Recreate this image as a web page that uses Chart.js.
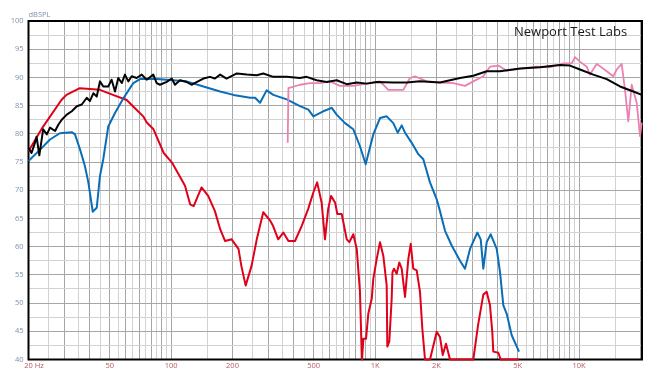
<!DOCTYPE html>
<html>
<head>
<meta charset="utf-8">
<script src="https://cdn.jsdelivr.net/npm/chart.js@4.4.1/dist/chart.umd.min.js"></script>
<style>
    html, body { margin: 0; padding: 0; background: #ffffff; }
    #wrap { width: 662px; height: 369px; }
</style>
</head>
<body>
<div id="wrap"><canvas id="responseChart" width="662" height="369"></canvas></div>
<script>
// Frequency (Hz) / level (dBSPL) pairs
const blackFreq = [20, 20.7, 21.5, 21.9, 22.6, 23.6, 24.6, 25.5, 27, 28, 29.1, 30.8, 32.6, 34.5, 36.5, 38.6, 40, 41.6, 43.2, 44.8, 46.5, 49.2, 51.1, 53.1, 55.1, 57.3, 59.4, 61.7, 64.1, 67.8, 71.8, 75.9, 81.8, 85, 88.2, 95.2, 100.7, 104.5, 110.6, 119, 126, 134, 144, 155, 164, 174, 187, 210, 235, 263, 283, 317, 369, 428, 462, 517, 579, 648, 726, 813, 910, 1018, 1228, 1429, 1660, 2080, 2608, 3030, 3524, 4096, 5134, 6434, 8060, 9024, 10100, 11740, 13660, 15870, 18440, 20300];
const blackSpl = [77.5, 76.6, 78.4, 79.5, 76.2, 80.8, 79.9, 81.1, 80.5, 81.6, 82.5, 83.4, 84, 84.9, 85.2, 86.4, 85.8, 87.2, 86.6, 89.3, 88.4, 88.4, 89.6, 87.5, 89.9, 89, 90.5, 89.3, 90.2, 89.9, 90.5, 89.6, 90.5, 89, 88.7, 89.2, 89.8, 88.7, 89.5, 89.2, 88.7, 89.2, 89.8, 90.1, 89.8, 90.5, 89.8, 90.7, 90.5, 90.4, 90.7, 90.1, 90.1, 89.9, 90.1, 89.5, 89.2, 89.5, 88.8, 89.1, 88.9, 89.2, 89.1, 89.1, 89.3, 89.1, 89.9, 90.3, 91.1, 91.1, 91.6, 91.8, 92.2, 92.1, 91.4, 90.5, 89.7, 88.4, 87.5, 86.9];

const redFreq = [20, 23.5, 29, 30.7, 35.7, 44.8, 51.9, 60.6, 65, 73, 76, 82, 92, 101, 109, 117, 124, 129, 141, 152, 164, 174, 184, 198, 214, 221, 232, 248, 263, 283, 306, 316, 335, 355, 376, 405, 437, 470, 498, 520, 547, 568, 589, 608, 637, 653, 686, 726, 748, 782, 813, 843, 853, 863, 876, 903, 926, 963, 980, 1018, 1057, 1097, 1140, 1148, 1174, 1206, 1217, 1238, 1276, 1314, 1350, 1402, 1455, 1495, 1539, 1599, 1660, 1704, 1757, 1858, 2005, 2080, 2146, 2226, 2330, 3030, 3194, 3392, 3524, 3658, 3754, 3796, 4018, 4128, 5076];
const redSpl = [76.9, 81.2, 86, 86.9, 88.1, 87.8, 86.9, 86, 84.9, 83.1, 82, 80.8, 76.6, 74.9, 72.8, 70.8, 67.5, 67.2, 70.5, 69, 66.3, 63.1, 61.0, 61.3, 59.6, 56.6, 53.1, 56.6, 61.3, 66.1, 64.6, 63.7, 61.3, 62.5, 61.0, 61.0, 63.7, 66.7, 69.6, 71.4, 67.8, 61.3, 66.7, 69.0, 67.8, 65.8, 65.8, 61.3, 60.8, 62.2, 59.6, 52.0, 45.5, 40, 43.7, 43.7, 48.1, 50.8, 54.3, 57.8, 60.8, 58.4, 53.1, 42.3, 43.2, 50.8, 55.5, 56.1, 55.2, 57.2, 56.1, 51.1, 57.8, 60.5, 56.1, 55.8, 52.0, 45.5, 40, 40, 44.9, 44.0, 40.8, 42.8, 40, 40, 46, 51.5, 52.0, 49.6, 44.9, 41.4, 41.2, 40, 40];

const blueFreq = [20, 22.8, 25.5, 28.5, 32.6, 33.8, 35.8, 37.8, 39.3, 41.3, 43.2, 44.8, 46.5, 49.2, 53.1, 57.9, 65.3, 70.4, 85, 119, 144, 174, 202, 244, 258, 273, 294, 317, 369, 428, 471, 498, 557, 613, 648, 712, 782, 843, 899, 980, 1057, 1140, 1228, 1291, 1350, 1402, 1512, 1629, 1723, 1858, 2005, 2080, 2202, 2374, 2608, 2758, 2920, 3170, 3294, 3392, 3524, 3688, 3946, 4096, 4252, 4418, 4674, 5076];
const blueSpl = [75.2, 77.2, 79, 80.1, 80.3, 79.9, 77.2, 74.3, 71.4, 66.2, 66.9, 72.5, 75.5, 81.3, 83.7, 86.1, 89, 89.7, 89.7, 89.3, 88.4, 87.5, 86.9, 86.4, 86.4, 85.5, 87.7, 86.9, 86.1, 84.9, 84.3, 83.1, 84, 84.6, 83.4, 81.9, 80.8, 77.8, 74.6, 79.9, 82.8, 83.1, 81.9, 80.2, 81.5, 80.2, 78.4, 76.4, 75.5, 71.4, 68.4, 66.3, 62.8, 60.2, 57.5, 56.1, 59.6, 62.5, 61.3, 56.1, 60.8, 62.2, 59.6, 55.5, 49.6, 48.1, 44.3, 41.4];

const pinkFreq = [373, 376, 428, 480, 537, 601, 673, 782, 910, 1057, 1161, 1375, 1483, 1569, 1791, 2080, 2418, 2758, 3030, 3392, 3658, 4018, 4418, 5328, 6198, 7202, 8368, 9200, 9550, 10100, 10900, 11310, 12200, 13660, 14710, 15290, 16170, 16790, 17430, 18110, 19160, 19890, 20270];
const pinkSpl = [78.4, 88.1, 88.7, 89, 89, 89.3, 88.5, 88.5, 88.9, 89.3, 87.8, 87.8, 89.9, 90.2, 89.3, 89.1, 89, 88.5, 89.3, 90.2, 91.9, 92.1, 91.2, 91.6, 91.9, 91.8, 92.5, 92.5, 93.6, 92.8, 91.9, 90.5, 92.4, 91.1, 90.2, 91.4, 92.4, 87.8, 82.2, 88.7, 85.5, 79.6, 82];

// Axis ticks
const xLabelValues = [20, 50, 100, 200, 500, 1000, 2000, 5000, 10000];
const xLabelTexts = ['20 Hz', '50', '100', '200', '500', '1K', '2K', '5K', '10K'];
const gridSteps = [1, 1.5, 2, 2.5, 3, 3.5, 4, 4.5, 5, 5.5, 6, 6.5, 7, 7.5, 8, 8.5, 9, 9.5];
const gridDecades = [10, 100, 1000, 10000];
const yTicks = [40, 42.5, 45, 47.5, 50, 52.5, 55, 57.5, 60, 62.5, 65, 67.5, 70, 72.5, 75, 77.5, 80, 82.5, 85, 87.5, 90, 92.5, 95, 97.5, 100];

const FONT = "'Open Sans', 'DejaVu Sans', sans-serif";
const yLabelColor = '#7f90ad';
const xLabelColor = '#b8575e';
const gridMajorColor = '#a6a6a6';
const gridMinorColor = '#d2d2d2';

// Vertical grid lines: every half step of each decade
const gridFreqs = [];
const gridMinor = [];
gridDecades.forEach(d => {
    gridSteps.forEach(s => {
        const v = Math.round(d * s);
        if (v >= 20 && v <= 20000) {
            gridFreqs.push(v);
            gridMinor.push(s % 1 !== 0);
        }
    });
});

function toPoints(freqs, spls) {
    return freqs.map((f, i) => ({ x: f, y: spls[i] }));
}

function series(label, freqs, spls, color, width) {
    return {
        label: label,
        data: toPoints(freqs, spls),
        borderColor: color,
        borderWidth: width,
        pointRadius: 0,
        fill: false,
        tension: 0,
        borderJoinStyle: 'round',
        clip: 3
    };
}

// Frame, axis captions, x labels
const decorPlugin = {
    id: 'decor',
    beforeDatasetsDraw(chart) {
        const { ctx, chartArea: a } = chart;
        ctx.save();
        ctx.strokeStyle = '#000000';
        ctx.lineWidth = 2;
        ctx.strokeRect(a.left, a.top, a.right - a.left, a.bottom - a.top);
        ctx.restore();
    },
    afterDraw(chart) {
        const { ctx, chartArea: a } = chart;
        const xs = chart.scales.x;
        ctx.save();
        ctx.font = '7.5px ' + FONT;
        ctx.fillStyle = yLabelColor;
        ctx.textAlign = 'left';
        ctx.textBaseline = 'alphabetic';
        ctx.fillText('dBSPL', a.left, 16.5);

        ctx.fillStyle = xLabelColor;
        ctx.textBaseline = 'top';
        xLabelValues.forEach((v, i) => {
            const px = xs.getPixelForValue(v);
            if (i === 0) {
                const w = ctx.measureText('20').width;
                ctx.textAlign = 'left';
                ctx.fillText(xLabelTexts[i], px - w / 2, a.bottom + 2.5);
            } else {
                ctx.textAlign = 'center';
                ctx.fillText(xLabelTexts[i], px, a.bottom + 2.5);
            }
        });

        ctx.font = '13px ' + FONT;
        ctx.fillStyle = '#1a1a1a';
        ctx.textAlign = 'left';
        ctx.textBaseline = 'alphabetic';
        ctx.fillText('Newport Test Labs', 514, 36);
        ctx.restore();
    }
};

new Chart(document.getElementById('responseChart'), {
    type: 'line',
    data: {
        datasets: [
            series('Total', blackFreq, blackSpl, '#050505', 2),
            series('Tweeter', pinkFreq, pinkSpl, '#ec80b2', 1.8),
            series('Midrange', blueFreq, blueSpl, '#0a6db7', 2),
            series('Woofer', redFreq, redSpl, '#e0001b', 2)
        ]
    },
    options: {
        responsive: false,
        animation: false,
        devicePixelRatio: 1,
        layout: { padding: { top: 21, right: 20, left: 0, bottom: 0 } },
        plugins: {
            legend: { display: false },
            tooltip: { enabled: false }
        },
        scales: {
            x: {
                type: 'logarithmic',
                min: 20,
                max: 20340,
                afterBuildTicks: scale => {
                    scale.ticks = gridFreqs.map(v => ({ value: v }));
                },
                afterFit: scale => { scale.height = 8; },
                grid: {
                    color: c => gridMinor[c.index] ? gridMinorColor : gridMajorColor,
                    lineWidth: 1,
                    drawTicks: false
                },
                border: { display: false },
                ticks: { display: false }
            },
            y: {
                min: 40,
                max: 100,
                afterBuildTicks: scale => {
                    scale.ticks = yTicks.map(v => ({ value: v }));
                },
                afterFit: scale => { scale.width = 28.5; },
                grid: {
                    color: c => (c.tick && c.tick.value % 5 === 0) ? gridMajorColor : gridMinorColor,
                    lineWidth: 1,
                    drawTicks: false
                },
                border: { display: false },
                ticks: {
                    callback: v => (v % 5 === 0 ? String(v) : ''),
                    color: yLabelColor,
                    font: { family: FONT, size: 7.5 },
                    padding: 5,
                    autoSkip: false
                }
            }
        }
    },
    plugins: [decorPlugin]
});
</script>
</body>
</html>
